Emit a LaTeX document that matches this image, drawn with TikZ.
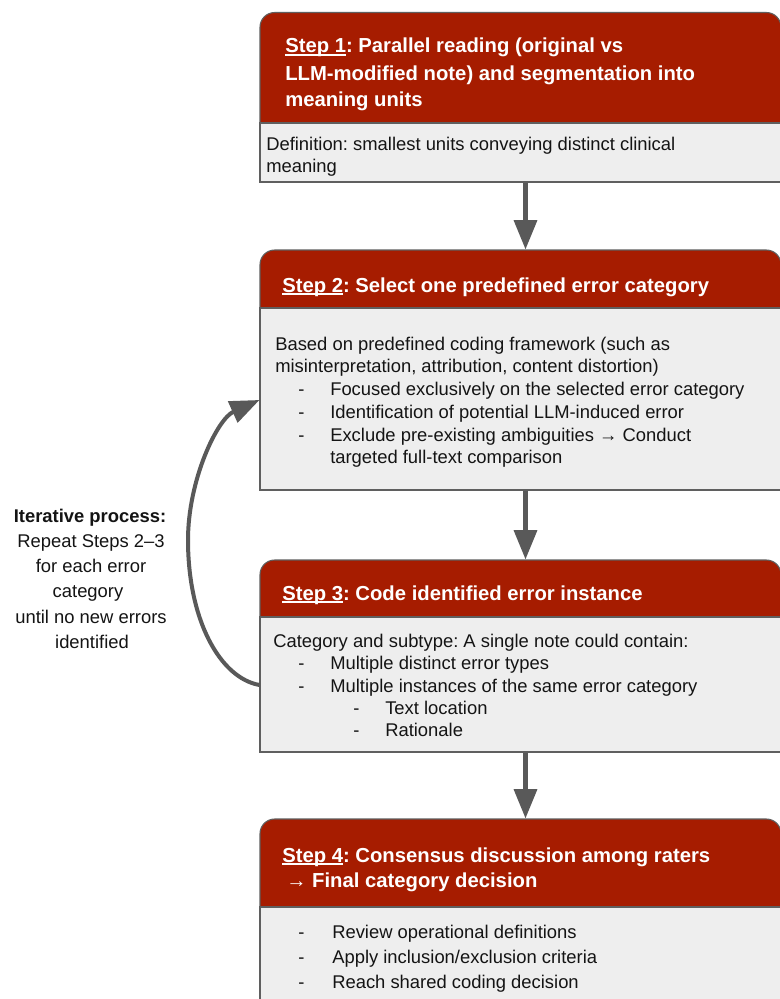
\documentclass[tikz,border=0pt]{standalone}
\usepackage{fontspec}
\setmainfont{Liberation Sans}
\usetikzlibrary{arrows.meta,fit}
\definecolor{hdr}{HTML}{A61C00}
\definecolor{bodyg}{HTML}{EEEEEE}
\definecolor{edge}{HTML}{5F5F5F}
\definecolor{arr}{HTML}{595959}
\frenchspacing
\newcommand\stepul[1]{\setbox0\hbox{#1}\rlap{\rule[-1.9pt]{\wd0}{0.9pt}}\box0}
\begin{document}
\begin{tikzpicture}[x=0.75pt,y=-0.75pt,
  stepbox/.style={inner sep=0pt, fill=hdr, draw=edge, line width=0.8pt, rounded corners=11pt},
  bodybox/.style={inner sep=0pt, fill=bodyg, draw=edge, line width=0.8pt},
  hd/.style={anchor=base west, inner sep=0pt, text=white, font=\fontsize{15.2}{18}\selectfont\bfseries},
  bd/.style={anchor=base west, inner sep=0pt, text=black!92, font=\fontsize{13.8}{16}\selectfont},
  lt/.style={anchor=base, inner sep=0pt, text=black!92, font=\fontsize{13.8}{16}\selectfont},
  flow/.style={draw=arr, line width=3.3pt, -{Triangle[width=17pt,length=22pt]}}]
\clip (0,0) rectangle (780,999);
\fill[white] (0,0) rectangle (780,999);

% Step 1
\node[stepbox, fit={(260,12.5) (781,182)}] (s1) {};
\node[bodybox, fit={(260,123) (781,182)}] (s1b) {};
\node[hd] (s1h1) at (285,53) {\stepul{Step 1}: Parallel reading (original vs};
\node[hd] (s1h2) at (285,80) {LLM-modified note) and segmentation into};
\node[hd] (s1h3) at (285,106.5) {meaning units};
\node[bd] (s1t1) at (266,150) {Definition: smallest units conveying distinct clinical};
\node[bd] (s1t2) at (266,172.5) {meaning};

% Step 2
\node[stepbox, fit={(260,250) (781,490)}] (s2) {};
\node[bodybox, fit={(260,308) (781,490)}] (s2b) {};
\node[hd] (s2h1) at (282,292) {\stepul{Step 2}: Select one predefined error category};
\node[bd] (s2t1) at (275,350) {Based on predefined coding framework (such as};
\node[bd] (s2t2) at (275,372.5) {misinterpretation, attribution, content distortion)};
\node[bd] (s2d1) at (298,395) {-};
\node[bd] (s2t3) at (330,395) {Focused exclusively on the selected error category};
\node[bd] (s2d2) at (298,418) {-};
\node[bd] (s2t4) at (330,418) {Identification of potential LLM-induced error};
\node[bd] (s2d3) at (298,441) {-};
\node[bd] (s2t5) at (330,441) {Exclude pre-existing ambiguities → Conduct};
\node[bd] (s2t6) at (330,463.5) {targeted full-text comparison};

% Step 3
\node[stepbox, fit={(260,560) (781,752)}] (s3) {};
\node[bodybox, fit={(260,617) (781,752)}] (s3b) {};
\node[hd] (s3h1) at (282,600) {\stepul{Step 3}: Code identified error instance};
\node[bd] (s3t1) at (273,647) {Category and subtype: A single note could contain:};
\node[bd] (s3d1) at (298,669) {-};
\node[bd] (s3t2) at (330,669) {Multiple distinct error types};
\node[bd] (s3d2) at (298,692) {-};
\node[bd] (s3t3) at (330,692) {Multiple instances of the same error category};
\node[bd] (s3d3) at (353,714) {-};
\node[bd] (s3t4) at (385,714) {Text location};
\node[bd] (s3d4) at (353,736) {-};
\node[bd] (s3t5) at (385,736) {Rationale};

% Step 4
\node[stepbox, fit={(260,819) (781,1012)}] (s4) {};
\node[bodybox, fit={(260,907) (781,1012)}] (s4b) {};
\node[hd] (s4h1) at (282,862) {\stepul{Step 4}: Consensus discussion among raters};
\node[hd] (s4h2) at (286,887) {→ Final category decision};
\node[bd] (s4d1) at (298,938) {-};
\node[bd] (s4t1) at (332,938) {Review operational definitions};
\node[bd] (s4d2) at (298,963) {-};
\node[bd] (s4t2) at (332,963) {Apply inclusion/exclusion criteria};
\node[bd] (s4d3) at (298,988) {-};
\node[bd] (s4t3) at (332,988) {Reach shared coding decision};

% vertical connectors
\coordinate (ax) at (525.5,0);
\draw[flow] (s1b.south -| ax) -- (s2.north -| ax);
\draw[flow] (s2b.south -| ax) -- (s3.north -| ax);
\draw[flow] (s3b.south -| ax) -- (s4.north -| ax);

% iterative loop
\coordinate (ls) at (s3b.west |- 0,685);
\coordinate (lm) at (188,540);
\coordinate (le) at (s2b.west |- 0,400);
\draw[flow, line width=3pt] (ls) .. controls (220,678) and (188,620) .. (lm)
      .. controls (188,480) and (217.2,419) .. (le);

% left label
\node[lt, font=\fontsize{13.8}{16}\selectfont\bfseries] (it1) at (90,522) {Iterative process:};
\node[lt] (it2) at (91,547) {Repeat Steps 2–3};
\node[lt] (it3) at (91,572) {for each error};
\node[lt] (it4) at (88,597) {category};
\node[lt] (it5) at (91,623) {until no new errors};
\node[lt] (it6) at (92,648) {identified};
\end{tikzpicture}
\end{document}
